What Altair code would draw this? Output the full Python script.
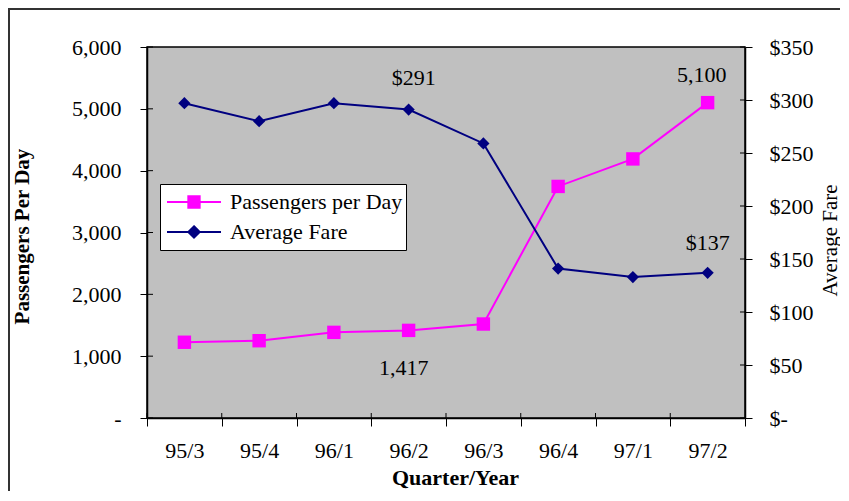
import altair as alt
import pandas as pd

# ---- data ----
quarters = ["95/3", "95/4", "96/1", "96/2", "96/3", "96/4", "97/1", "97/2"]
passengers = [1225, 1250, 1385, 1417, 1520, 3745, 4190, 5100]
fares = [297, 280, 297, 291, 259, 141, 133, 137]
series_names = ["Passengers per Day", "Average Fare"]
series_colors = ["#FF00FF", "#000080"]
left_ticks = [0, 1000, 2000, 3000, 4000, 5000, 6000]
right_ticks = [0, 50, 100, 150, 200, 250, 300, 350]

W, H = 598, 371
FONT = "Liberation Serif"

rows = []
for q, p, f in zip(quarters, passengers, fares):
    rows.append({"quarter": q, "series": series_names[0], "value": p, "label": f"{p:,}"})
    rows.append({"quarter": q, "series": series_names[1], "value": f, "label": f"${f}"})
df = pd.DataFrame(rows)
pdf = df[df.series == series_names[0]]
fdf = df[df.series == series_names[1]]

# ---- scales / axes ----
x_scale = alt.Scale(type="band", domain=quarters, paddingInner=0, paddingOuter=0)
x_axis = alt.Axis(title="Quarter/Year", labelAngle=0, tickBand="extent", tickSize=8,
                  labelPadding=14, labelFontSize=22, titleFontSize=22,
                  titleFontWeight="bold", titleX=308, titleY=66,
                  titleBaseline="alphabetic", titleAlign="center")
X = alt.X("quarter:N", scale=x_scale, axis=x_axis)
Xb = alt.X("quarter:N", scale=x_scale, axis=x_axis, bandPosition=0)

nb = "\u00a0"
YL = alt.Y("value:Q", scale=alt.Scale(domain=[0, 6000], nice=False),
           axis=alt.Axis(orient="left", values=left_ticks,
                         labelExpr=f"datum.value == 0 ? '-{nb*4}' : format(datum.value, ',')",
                         title="Passengers Per Day", titleFontWeight="bold", titleFontSize=21,
                         titleAngle=270, titleX=-119, titleY=189, titleBaseline="alphabetic",
                         titleAlign="center", tickSize=7, labelPadding=19, labelFontSize=22))
YR = alt.Y("value:Q", scale=alt.Scale(domain=[0, 350], nice=False),
           axis=alt.Axis(orient="right", values=right_ticks,
                         labelExpr="datum.value == 0 ? '$-' : '$' + format(datum.value, 'd')",
                         title="Average Fare", titleFontWeight="normal", titleFontSize=21,
                         titleAngle=270, titleX=91, titleY=193, titleBaseline="alphabetic",
                         titleAlign="center", tickSize=7, labelPadding=17, labelFontSize=22))

# ---- legend (built from an empty layer; entries come from the explicit domains) ----
legend_paths = ["M-1,0H1M-0.21,-0.21H0.21V0.21H-0.21Z",
                "M-1,0H1M0,-0.21L0.21,0L0,0.21L-0.21,0Z"]
legend = alt.Legend(
    title=None, orient="none", legendX=13, legendY=137, direction="vertical",
    fillColor="white", strokeColor="black", padding=3, rowPadding=0,
    clipHeight=30, symbolSize=2916, symbolOffset=3, labelOffset=8,
    symbolStrokeWidth=2, labelFont=FONT, labelFontSize=22, labelColor="black",
    labelLimit=400, symbolOpacity=1)
leg_layer = alt.Chart(df).transform_filter("false").mark_point(strokeWidth=2).encode(
    x=X, y=YL,
    fill=alt.Fill("series:N", scale=alt.Scale(domain=series_names, range=series_colors), legend=legend),
    stroke=alt.Stroke("series:N", scale=alt.Scale(domain=series_names, range=series_colors), legend=legend),
    shape=alt.Shape("series:N", scale=alt.Scale(domain=series_names, range=legend_paths), legend=legend),
)

# ---- left (passengers) ----
pbase = alt.Chart(pdf)
p_line = pbase.mark_line(strokeWidth=2, color=series_colors[0]).encode(x=X, y=YL)
p_pts = pbase.mark_point(shape="square", size=180, filled=True, opacity=1,
                         color=series_colors[0]).encode(x=X, y=YL)
p_t1 = pbase.transform_filter(alt.datum.quarter == "97/2").mark_text(
    font=FONT, fontSize=22, color="black", baseline="alphabetic", dx=-6, dy=-21
).encode(x=X, y=YL, text="label:N")
p_t2 = pbase.transform_filter(alt.datum.quarter == "96/2").mark_text(
    font=FONT, fontSize=22, color="black", baseline="alphabetic", dx=-5, dy=45
).encode(x=X, y=YL, text="label:N")
l_ticks = alt.Chart(pd.DataFrame({"value": left_ticks})).mark_rule(color="black", strokeWidth=1).encode(
    y=YL, x=alt.value(0), x2=alt.value(6))
x_ticks = alt.Chart(pd.DataFrame({"quarter": quarters})).mark_rule(color="black", strokeWidth=1).encode(
    x=Xb, y=alt.value(H - 5), y2=alt.value(H))
left = alt.layer(p_line, p_pts, p_t1, p_t2, l_ticks, x_ticks, leg_layer)

# ---- right (fares) ----
fbase = alt.Chart(fdf)
f_line = fbase.mark_line(strokeWidth=2, color=series_colors[1]).encode(x=X, y=YR)
f_pts = fbase.mark_point(shape="diamond", size=150, filled=True, opacity=1,
                         color=series_colors[1]).encode(x=X, y=YR)
f_t1 = fbase.transform_filter(alt.datum.quarter == "96/2").mark_text(
    font=FONT, fontSize=22, color="black", baseline="alphabetic", dx=5, dy=-25
).encode(x=X, y=YR, text="label:N")
f_t2 = fbase.transform_filter(alt.datum.quarter == "97/2").mark_text(
    font=FONT, fontSize=22, color="black", baseline="alphabetic", dx=0, dy=-23
).encode(x=X, y=YR, text="label:N")
r_ticks = alt.Chart(pd.DataFrame({"value": right_ticks})).mark_rule(color="black", strokeWidth=1).encode(
    y=YR, x=alt.value(W - 5), x2=alt.value(W))
right = alt.layer(f_line, f_pts, f_t1, f_t2, r_ticks)

# ---- outer frame ----
frame = alt.Chart(alt.Data(values=[{}])).mark_rect(
    fillOpacity=0, stroke="#333333", strokeWidth=2
).encode(x=alt.value(-138), x2=alt.value(W + 200), y=alt.value(-38), y2=alt.value(H + 200))

chart = alt.layer(frame, left, right).resolve_scale(y="independent").properties(
    width=W, height=H,
    autosize=alt.AutoSizeParams(type="none"),
    padding={"left": 139, "top": 39, "right": 95, "bottom": 73},
).configure_axis(
    labelFont=FONT, titleFont=FONT, labelColor="black", titleColor="black",
    domainColor="black", tickColor="black", grid=False, domainWidth=1.5, tickWidth=1,
).configure_view(fill="#C0C0C0", stroke="black", strokeWidth=1.5)

chart.save("out.html", embed_options={"renderer": "svg", "actions": False})
